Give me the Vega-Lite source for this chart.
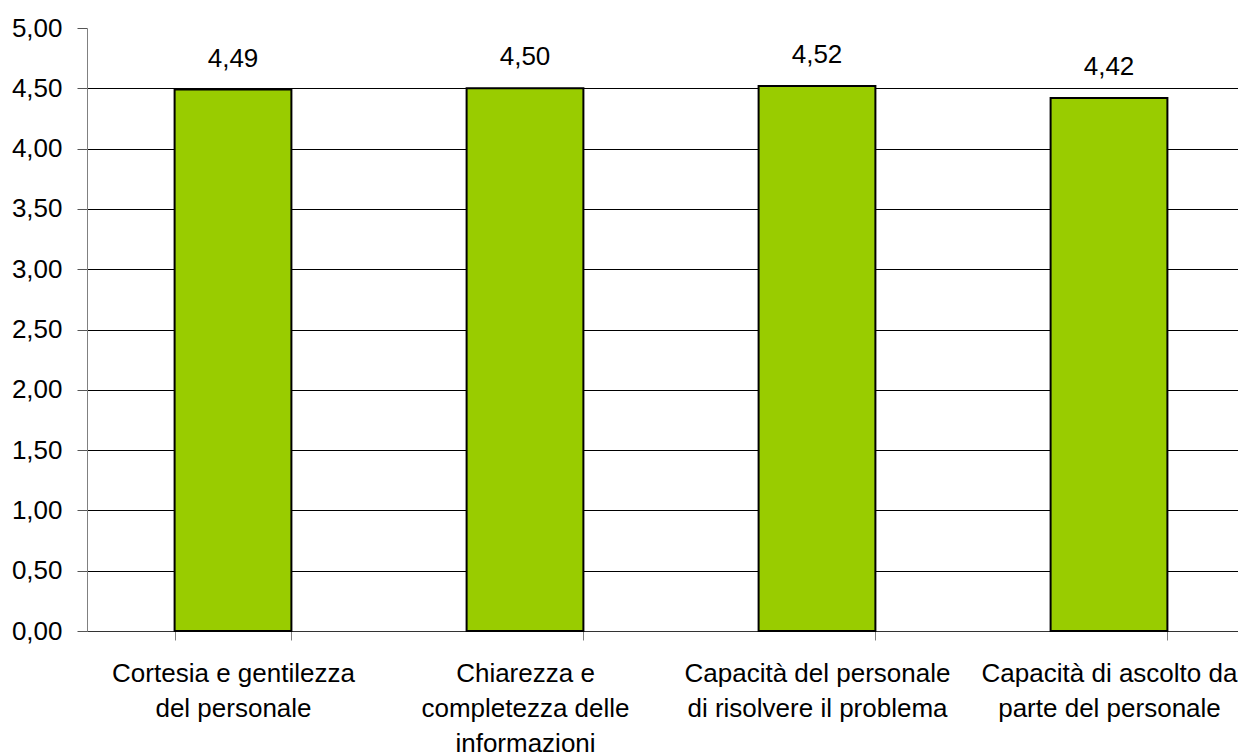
{
  "$schema": "https://vega.github.io/schema/vega-lite/v6.json",
  "autosize": {"type": "none"},
  "padding": {"left": 87, "top": 28, "right": 0, "bottom": 125},
  "width": 1151,
  "height": 603,
  "background": "white",
  "config": {
    "locale": {"number": {"decimal": ",", "thousands": ".", "grouping": [3], "currency": ["", " €"]}},
    "view": {"stroke": null},
    "font": "Liberation Sans"
  },
  "data": {
    "values": [
      {"voce": "Cortesia e gentilezza|del personale", "media": 4.49},
      {"voce": "Chiarezza e|completezza delle|informazioni", "media": 4.50},
      {"voce": "Capacità del personale|di risolvere il problema", "media": 4.52},
      {"voce": "Capacità di ascolto da|parte del personale", "media": 4.42}
    ]
  },
  "encoding": {
    "x": {
      "field": "voce",
      "type": "nominal",
      "sort": null,
      "scale": {"range": [0, 1168], "paddingInner": 0.6, "paddingOuter": 0.3},
      "axis": {
        "title": null,
        "labelAngle": 0,
        "labelExpr": "split(datum.label, '|')",
        "labelFont": "Liberation Sans",
        "labelFontSize": 26,
        "labelColor": "#000",
        "labelLineHeight": 35,
        "labelPadding": 20,
        "labelBaseline": "top",
        "tickBand": "extent",
        "tickSize": 9,
        "tickColor": "#808080",
        "domainColor": "#333",
        "labelLimit": 0,
        "grid": false
      }
    },
    "y": {
      "field": "media",
      "type": "quantitative",
      "scale": {"domain": [0, 5], "nice": false},
      "axis": {
        "title": null,
        "values": [0, 0.5, 1, 1.5, 2, 2.5, 3, 3.5, 4, 4.5, 5],
        "format": ".2f",
        "labelFont": "Liberation Sans",
        "labelFontSize": 26,
        "labelColor": "#000",
        "labelPadding": 15,
        "tickSize": 10,
        "tickColor": "#555",
        "domainColor": "#808080",
        "grid": true,
        "gridColor": {"condition": {"test": "datum.value >= 5", "value": "transparent"}, "value": "#000"},
        "gridWidth": 1
      }
    }
  },
  "layer": [
    {
      "mark": {"type": "bar", "color": "#99CC00", "stroke": "#000", "strokeWidth": 2}
    },
    {
      "mark": {"type": "text", "baseline": "alphabetic", "dy": -23, "fontSize": 26, "font": "Liberation Sans", "color": "#000"},
      "encoding": {"text": {"field": "media", "type": "quantitative", "format": ".2f"}}
    }
  ]
}
